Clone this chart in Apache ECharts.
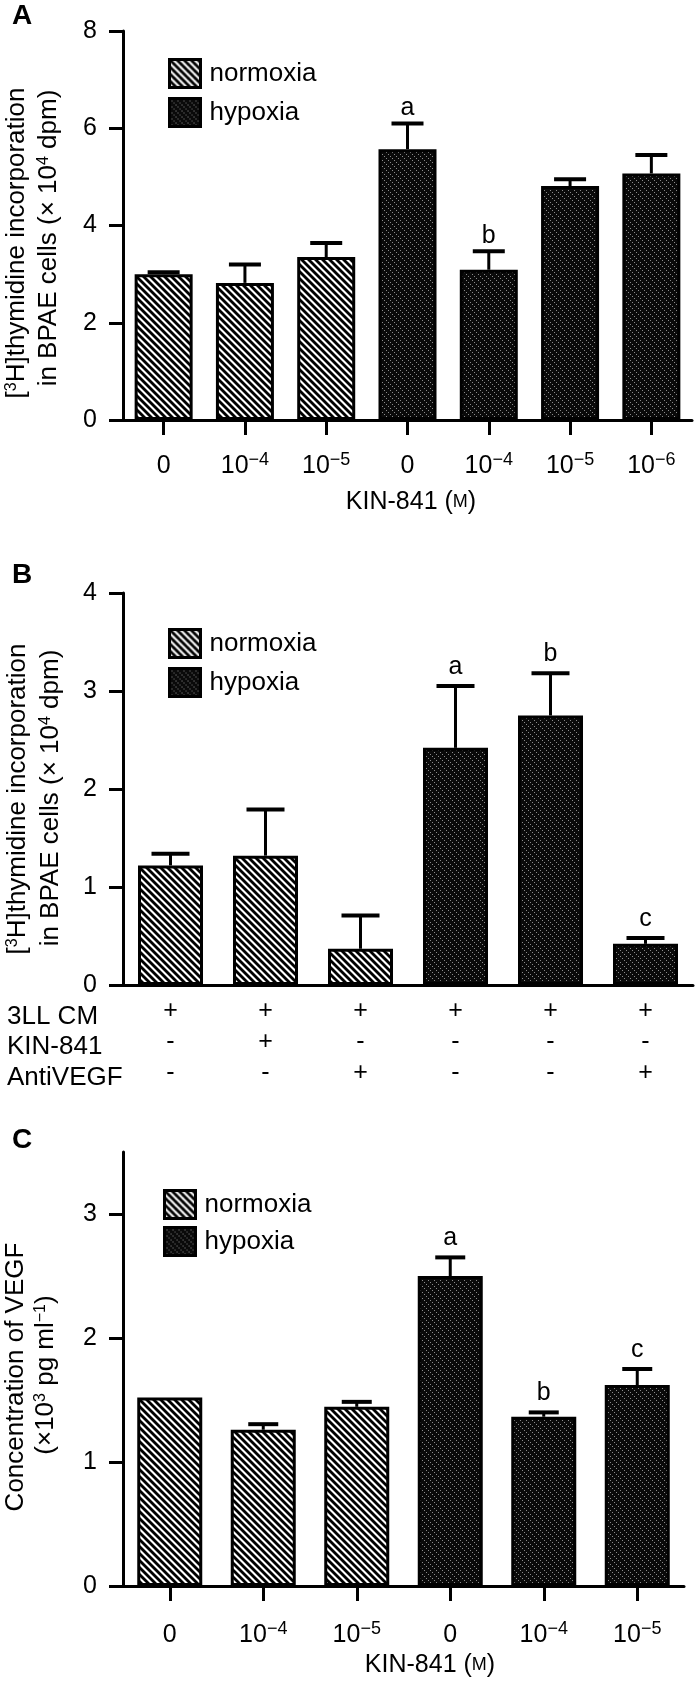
<!DOCTYPE html>
<html>
<head>
<meta charset="utf-8">
<script src="https://cdn.jsdelivr.net/npm/echarts@6/dist/echarts.min.js"></script>
<style>
  html, body { margin: 0; padding: 0; background: #fff; }
  #chart { width: 698px; height: 1691px; }
</style>
</head>
<body>
<div id="chart"></div>
<script>
// panel A: KIN-841 dose vs [3H]thymidine incorporation
var labelsA = ['0', '10^-4', '10^-5', '0', '10^-4', '10^-5', '10^-6'];
var groupA = ['normoxia', 'normoxia', 'normoxia', 'hypoxia', 'hypoxia', 'hypoxia', 'hypoxia'];
var meanA = [3.0, 2.82, 3.35, 5.57, 3.09, 4.81, 5.07];
var semA = [0.04, 0.38, 0.29, 0.53, 0.38, 0.14, 0.38];
var lettersA = ['', '', '', 'a', 'b', '', ''];
var yTicksA = [0, 2, 4, 6, 8];

// panel B: 3LL conditioned medium
var rowNamesB = ['3LL CM', 'KIN-841', 'AntiVEGF'];
var cmB = ['+', '+', '+', '+', '+', '+'];
var kinB = ['-', '+', '-', '-', '-', '-'];
var antiB = ['-', '-', '+', '-', '-', '+'];
var groupB = ['normoxia', 'normoxia', 'normoxia', 'hypoxia', 'hypoxia', 'hypoxia'];
var meanB = [1.22, 1.32, 0.37, 2.42, 2.75, 0.42];
var semB = [0.12, 0.47, 0.34, 0.63, 0.43, 0.06];
var lettersB = ['', '', '', 'a', 'b', 'c'];
var yTicksB = [0, 1, 2, 3, 4];

// panel C: VEGF concentration
var labelsC = ['0', '10^-4', '10^-5', '0', '10^-4', '10^-5'];
var groupC = ['normoxia', 'normoxia', 'normoxia', 'hypoxia', 'hypoxia', 'hypoxia'];
var meanC = [1.52, 1.26, 1.445, 2.5, 1.365, 1.62];
var semC = [0, 0.045, 0.04, 0.15, 0.035, 0.13];
var lettersC = ['', '', '', 'a', 'b', 'c'];
var yTicksC = [0, 1, 2, 3];

var FONT = '"Liberation Sans", Arial, Helvetica, sans-serif';

// hatch fills
function stripes() {
  var s = 7, c = document.createElement('canvas');
  c.width = c.height = s;
  var g = c.getContext('2d');
  g.fillStyle = '#fff';
  g.fillRect(0, 0, s, s);
  g.strokeStyle = '#000';
  g.lineWidth = 2.8;
  for (var k = -1; k <= 1; k++) {
    g.beginPath();
    g.moveTo(k * s - 1, -1);
    g.lineTo(k * s + s + 1, s + 1);
    g.stroke();
  }
  return c;
}
function dots() {
  var s = 6, c = document.createElement('canvas');
  c.width = c.height = s;
  var g = c.getContext('2d');
  g.fillStyle = '#0a0a0a';
  g.fillRect(0, 0, s, s);
  g.fillStyle = '#8a8a8a';
  for (var i = 0; i < s; i += 2) g.fillRect(i, i, 1, 1);
  return c;
}
var fills = {
  normoxia: { image: stripes(), repeat: 'repeat' },
  hypoxia: { image: dots(), repeat: 'repeat' }
};

var sup = { fontSize: 16, verticalAlign: 'top', fontFamily: FONT, color: '#000', fill: '#000' };
var tickBase = { fontSize: 25, lineHeight: 30, fontFamily: FONT, color: '#000' };
var tickSup = { fontSize: 18, lineHeight: 18, verticalAlign: 'top', fontFamily: FONT, color: '#000' };
var smallCap = { fontSize: 18, fontFamily: FONT, color: '#000', fill: '#000' };

function powLabel(v) {
  var m = /^10\^(-?\d+)$/.exec(v);
  if (!m) return '{b|' + v + '}';
  return '{b|10}{s|' + m[1].replace('-', '\u2212') + '}';
}

function bars(name, idx, group, mean, width) {
  return {
    type: 'bar', name: name, xAxisIndex: idx, yAxisIndex: idx,
    barWidth: width, barGap: '-100%',
    data: mean.map(function (v, i) { return group[i] === name ? v : '-'; }),
    itemStyle: { color: fills[name], borderColor: '#000', borderWidth: 3 },
    z: 2
  };
}

function errors(idx, mean, sem, letters, cap, lift) {
  return {
    type: 'custom', xAxisIndex: idx, yAxisIndex: idx, z: 3, silent: true,
    data: mean.map(function (v, i) { return [i, v, v + sem[i]]; }),
    encode: { x: 0, y: [1, 2] },
    renderItem: function (params, api) {
      var i = params.dataIndex;
      var lo = api.coord([api.value(0), api.value(1)]);
      var hi = api.coord([api.value(0), api.value(2)]);
      var kids = [];
      if (sem[i] > 0) {
        kids.push({ type: 'line', shape: { x1: lo[0], y1: lo[1], x2: hi[0], y2: hi[1] },
          style: { stroke: '#000', lineWidth: 3 } });
        kids.push({ type: 'line', shape: { x1: hi[0] - cap / 2, y1: hi[1], x2: hi[0] + cap / 2, y2: hi[1] },
          style: { stroke: '#000', lineWidth: 4 } });
      }
      if (letters[i]) {
        kids.push({ type: 'text', x: hi[0], y: hi[1] - lift,
          style: { text: letters[i], fontSize: 25, fontFamily: FONT, fill: '#000', align: 'center', verticalAlign: 'middle' } });
      }
      return { type: 'group', children: kids };
    }
  };
}

function valueAxis(idx, ticks, max) {
  return {
    gridIndex: idx, type: 'value', min: 0, max: max, interval: ticks[1] - ticks[0],
    axisLine: { show: true, lineStyle: { color: '#000', width: 3 } },
    axisTick: { show: true, length: 14, customValues: ticks, lineStyle: { color: '#000', width: 3 } },
    axisLabel: { customValues: ticks, margin: 26, fontSize: 25, color: '#000', fontFamily: FONT },
    splitLine: { show: false }
  };
}

function doseAxis(idx, labels, margin) {
  return {
    gridIndex: idx, type: 'category', data: labels,
    axisLine: { lineStyle: { color: '#000', width: 3 } },
    axisTick: { show: true, alignWithLabel: true, length: 15, lineStyle: { color: '#000', width: 3 } },
    axisLabel: {
      interval: 0, margin: margin, color: '#000', fontFamily: FONT,
      formatter: function (v, i) { return powLabel(labels[i]); },
      rich: { b: tickBase, s: tickSup }
    }
  };
}

function legendAt(left, top, gap) {
  return {
    data: ['normoxia', 'hypoxia'], orient: 'vertical', left: left, top: top, padding: 0,
    icon: 'rect', itemWidth: 31, itemHeight: 28, itemGap: gap, selectedMode: false,
    itemStyle: { borderColor: '#000', borderWidth: 3 },
    textStyle: { fontSize: 26, color: '#000', fontFamily: FONT, padding: [0, 0, 0, 4] }
  };
}

function txt(x, y, text, size, opts) {
  opts = opts || {};
  return {
    type: 'text', x: x, y: y, rotation: opts.rot || 0, silent: true,
    style: {
      text: text, fontSize: size, fontFamily: FONT, fontWeight: opts.bold ? 'bold' : 'normal',
      fill: '#000', align: opts.align || 'center', verticalAlign: 'middle',
      rich: { s: sup, m: smallCap }
    }
  };
}

var V = Math.PI / 2;
var myChart = echarts.init(document.getElementById('chart'));

var option = {
  animation: false,
  backgroundColor: '#fff',
  textStyle: { fontFamily: FONT },
  grid: [
    { left: 123, top: 31, width: 569, height: 389, outerBoundsMode: 'none' },
    { left: 123, top: 593, width: 570, height: 392, outerBoundsMode: 'none' },
    { left: 123, top: 1152, width: 561, height: 434, outerBoundsMode: 'none' }
  ],
  legend: [legendAt(168, 58, 8), legendAt(168, 628, 8), legendAt(163, 1189, 6)],
  xAxis: [
    doseAxis(0, labelsA, 31),
    {
      gridIndex: 1, type: 'category', data: cmB,
      axisLine: { lineStyle: { color: '#000', width: 3 } },
      axisTick: { show: false },
      axisLabel: {
        interval: 0, margin: 11, lineHeight: 31, fontSize: 25, color: '#000', fontFamily: FONT,
        formatter: function (v, i) { return cmB[i] + '\n' + kinB[i] + '\n' + antiB[i]; }
      }
    },
    doseAxis(2, labelsC, 34)
  ],
  yAxis: [
    valueAxis(0, yTicksA, 8),
    valueAxis(1, yTicksB, 4),
    valueAxis(2, yTicksC, 3.5)
  ],
  graphic: [
    txt(12, 16, 'A', 28, { bold: true, align: 'left' }),
    txt(12, 575, 'B', 28, { bold: true, align: 'left' }),
    txt(12, 1140, 'C', 28, { bold: true, align: 'left' }),
    txt(17, 243, '[{s|3}H]thymidine incorporation', 26, { rot: V }),
    txt(49, 238, 'in BPAE cells (\u00d7 10{s|4} dpm)', 26, { rot: V }),
    txt(18, 799, '[{s|3}H]thymidine incorporation', 26, { rot: V }),
    txt(51, 798, 'in BPAE cells (\u00d7 10{s|4} dpm)', 26, { rot: V }),
    txt(16, 1377, 'Concentration of VEGF', 26, { rot: V }),
    txt(46, 1375, '(\u00d710{s|3} pg ml{s|\u22121})', 26, { rot: V }),
    txt(411, 502, 'KIN-841 ({m|M})', 25),
    txt(430, 1665, 'KIN-841 ({m|M})', 25),
    txt(7, 1017, rowNamesB[0], 26, { align: 'left' }),
    txt(7, 1047, rowNamesB[1], 26, { align: 'left' }),
    txt(7, 1078, rowNamesB[2], 26, { align: 'left' })
  ],
  series: [
    bars('normoxia', 0, groupA, meanA, 58),
    bars('hypoxia', 0, groupA, meanA, 58),
    errors(0, meanA, semA, lettersA, 32, 15),
    bars('normoxia', 1, groupB, meanB, 65),
    bars('hypoxia', 1, groupB, meanB, 65),
    errors(1, meanB, semB, lettersB, 38, 19),
    bars('normoxia', 2, groupC, meanC, 65),
    bars('hypoxia', 2, groupC, meanC, 65),
    errors(2, meanC, semC, lettersC, 30, 19)
  ]
};
option && myChart.setOption(option);
</script>
</body>
</html>
